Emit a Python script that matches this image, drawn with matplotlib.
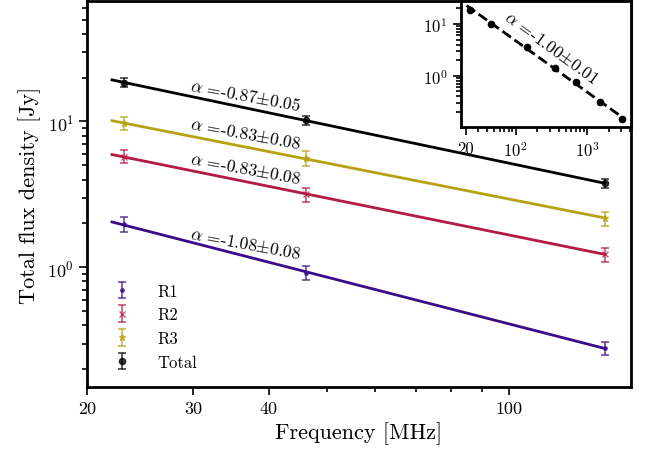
import matplotlib
matplotlib.use("Agg")
import matplotlib.pyplot as plt
import numpy as np

plt.rcParams['font.family'] = 'serif'
plt.rcParams['font.serif'] = ['cmr10']
plt.rcParams['mathtext.fontset'] = 'cm'
plt.rcParams['axes.formatter.use_mathtext'] = True
plt.rcParams['axes.unicode_minus'] = False

# frequencies in MHz
nu = np.array([23.0, 46.0, 144.0])

r1 = np.array([1.97, 0.92, 0.279])
r1_err = np.array([0.23, 0.10, 0.030])
r2 = np.array([5.75, 3.16, 1.23])
r2_err = np.array([0.58, 0.35, 0.135])
r3 = np.array([9.7, 5.6, 2.17])
r3_err = np.array([1.0, 0.65, 0.24])
tot = np.array([18.5, 10.2, 3.76])
tot_err = np.array([1.3, 0.7, 0.27])

alpha_txt = ['-1.08', '-0.83', '-0.83', '-0.87']
alpha_err = ['0.08', '0.08', '0.08', '0.05']
names = ['R1', 'R2', 'R3', 'Total']
colors = ['#3c0b88', '#b31b42', '#b6a214', 'black']
markers = ['.', 'x', '*', 'o']

# inset: total spectrum with literature points
nu_in = np.array([23.0, 46.0, 144.0, 360.0, 700.0, 1540.0, 3050.0])
s_in = np.array([18.9, 10.0, 3.64, 1.43, 0.745, 0.314, 0.145])
s_in_err = 0.05 * s_in

fig = plt.figure(figsize=(6.51, 4.56), dpi=100)
ax = fig.add_axes([0.1336, 0.149, 0.8357, 0.8466])

nu_fit = np.geomspace(22, 144, 50)
label_pos = [(36.6, 1.46), (36.6, 4.76), (36.6, 8.28), (36.6, 15.3)]
for i, (s, e) in enumerate([(r1, r1_err), (r2, r2_err), (r3, r3_err), (tot, tot_err)]):
    p = np.polyfit(np.log10(nu), np.log10(s), 1)
    ax.plot(nu_fit, 10**np.polyval(p, np.log10(nu_fit)), color=colors[i], lw=2, zorder=2)
    ms = 4.5 if markers[i] == 'o' else 5
    ax.errorbar(nu, s, yerr=e, fmt=markers[i], color=colors[i], ms=ms, capsize=3,
                elinewidth=1.2, capthick=1.2, alpha=0.75, label=names[i], zorder=3)
    ax.text(label_pos[i][0], label_pos[i][1],
            r'$\alpha$ =' + alpha_txt[i] + r'$\pm$' + alpha_err[i],
            fontsize=12.5, rotation=-10.5, ha='center', va='center')

ax.set_xscale('log')
ax.set_yscale('log')
ax.set_xlim(20, 159)
ax.set_ylim(0.151, 67)
ax.set_xticks([20, 30, 40, 100])
ax.set_xticklabels(['20', '30', '40', '100'])
ax.set_xticks([50, 60, 70, 80, 90], minor=True)
ax.set_xticklabels([], minor=True)
ax.tick_params(which='both', labelsize=13, width=1.2)
ax.tick_params(which='major', length=6)
ax.tick_params(which='minor', length=3.5)
for sp in ax.spines.values():
    sp.set_linewidth(2)
ax.set_xlabel('Frequency [MHz]', fontsize=16)
ax.set_ylabel('Total flux density [Jy]', fontsize=16)
ax.legend(loc='lower left', frameon=False, fontsize=12, bbox_to_anchor=(0.007, 0.006),
          handletextpad=1.1)

# inset
ins = fig.add_axes([0.708, 0.719, 0.2613, 0.2766])
p = np.polyfit(np.log10(nu_in), np.log10(s_in), 1)
nu_in_fit = np.geomspace(0.9 * nu_in.min(), 1.12 * nu_in.max(), 50)
ins.plot(nu_in_fit, 10**np.polyval(p, np.log10(nu_in_fit)), 'k--', lw=2)
ins.errorbar(nu_in, s_in, yerr=s_in_err, fmt='o', color='black', ms=4.5, capsize=2)
ins.text(318, 3.6, r'$\alpha$ =-1.00$\pm$0.01', fontsize=12.5, rotation=-36,
         ha='center', va='center')
ins.set_xscale('log')
ins.set_yscale('log')
ins.set_xlim(17.2, 4120)
ins.set_ylim(0.102, 27.8)
ins.set_xticks([20, 100, 1000])
ins.set_xticklabels(['20', r'$10^2$', r'$10^3$'])
ins.tick_params(which='both', labelsize=12, width=1.2)
ins.tick_params(which='major', length=6)
ins.tick_params(which='minor', length=3.5)
for sp in ins.spines.values():
    sp.set_linewidth(2)

fig.savefig('out.png', dpi=100)
